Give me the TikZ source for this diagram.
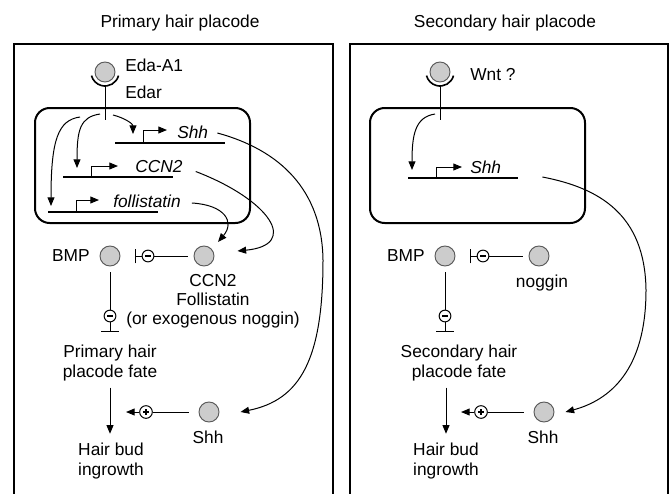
\documentclass[tikz,border=0pt]{standalone}
\usepackage{fontspec}
\setmainfont{Liberation Sans}
\usetikzlibrary{arrows.meta,calc}
\begin{document}
\begin{tikzpicture}[x=0.75pt,y=-0.75pt,
  every node/.style={font=\fontsize{13}{14.3}\selectfont, inner sep=0pt},
  lbl/.style={align=center},
  gene/.style={font=\fontsize{13}{14.3}\selectfont\itshape},
  sig/.style={circle,draw=black!65,fill=black!20,minimum size=15pt,line width=0.7pt},
  frame/.style={line width=1.6pt},
  cell/.style={line width=1.5pt,rounded corners=11pt},
  conn/.style={line width=0.75pt},
  act/.style={conn,-{Triangle[length=6.5pt,width=5.2pt]}},
  inh/.style={conn,-{Bar[width=#1,line width=0.9pt]}},
  dna/.style={line width=0.9pt},
  cup/.style={line width=1.2pt},
  minus/.style={circle,draw,line width=0.75pt,minimum size=8.8pt,
    path picture={\fill ([xshift=-2.4pt,yshift=-0.7pt]path picture bounding box.center) rectangle ([xshift=2.4pt,yshift=0.7pt]path picture bounding box.center);}},
  plus/.style={circle,draw,line width=0.75pt,minimum size=9.5pt,
    path picture={\fill ([xshift=-2.5pt,yshift=-0.65pt]path picture bounding box.center) rectangle ([xshift=2.5pt,yshift=0.65pt]path picture bounding box.center);
      \fill ([xshift=-0.65pt,yshift=-2.5pt]path picture bounding box.center) rectangle ([xshift=0.65pt,yshift=2.5pt]path picture bounding box.center);}}
]
\useasboundingbox (0,0) rectangle (670,493);

% titles
\node (t1) at (180,23) {Primary hair placode};
\node (t2) at (505,23) {Secondary hair placode};

% frames
\draw[frame] (14,494) -- (14,44) -- (333,44) -- (333,494);
\draw[frame] (350,494) -- (350,44) -- (668,44) -- (668,494);

% cells
\draw[cell] (35,108) rectangle (250,223);
\draw[cell] (370,108) rectangle (585,223);

%%%%%%%%%%%%%%%% LEFT PANEL
\node[sig] (lig1) at (105,72) {};
\draw[cup] ($(lig1)+(15:14)$) arc[start angle=15,end angle=165,radius=14];
\coordinate (stem1) at (105,120);
\draw[conn] ($(lig1)+(0,14)$) -- (stem1);
\node[anchor=west] (eda) at (125,65) {Eda-A1};
\node[anchor=west] (edar) at (125,92) {Edar};

% genes
\draw[dna] (115,143) -- (225,143);
\draw[act] (143,143) |- (167,130);
\node[gene,anchor=west] (g1shh) at (177,132) {Shh};
\draw[dna] (63,177) -- (173,177);
\draw[act] (91,177) |- (118,166);
\node[gene,anchor=west] (g1ccn) at (135,166.5) {CCN2};
\draw[dna] (48,212) -- (158,212);
\draw[act] (76,212) |- (99,200);
\node[gene,anchor=west] (g1fst) at (113,201) {follistatin};

% inner arrows
\coordinate (s1a) at (113,115);
\coordinate (s1b) at (100,114);
\coordinate (s1c) at (80,117);
\draw[act] (s1a) .. controls (125,118) and (133,124) .. (133,134);
\draw[act] (s1b) .. controls (80,117) and (77,130) .. (77,168);
\draw[act] (s1c) .. controls (58,120) and (51,140) .. (51,206);

% lower
\node[sig] (bmp1) at (110,256) {};
\node[anchor=east] (bmp1l) at (90,256) {BMP};
\node[sig] (ccn1) at (204,256) {};
\node[lbl] (ccn1l) at (213,301) {CCN2\\Follistatin\\(or exogenous noggin)};
\node[minus] (m1) at (148,256) {};
\coordinate (b1h) at (135,256);
\draw[conn,shorten <=4.5pt] (ccn1) -- (m1);
\draw[inh=11pt] (m1) -- (b1h);
\node[minus] (m2) at (110,316) {};
\coordinate (b1v) at (110,332);
\draw[conn,shorten <=4.5pt] (bmp1) -- (m2);
\draw[inh=13pt] (m2) -- (b1v);

\node[lbl] (fate1) at (110,363) {Primary hair\\placode fate};
\node[lbl] (bud1) at (111,461) {Hair bud\\ingrowth};
\draw[act,shorten <=5pt,shorten >=7pt] (fate1.south) -- (fate1.south |- bud1.north);

\node[sig] (shh1) at (209,412) {};
\node (shh1l) at (208,437) {Shh};
\node[plus] (p1) at (146,412) {};
\coordinate (a1) at (126,412);
\draw[conn,shorten <=7.5pt] (shh1) -- (p1);
\draw[act] (p1) -- (a1);

% long curves
\draw[act] ($(g1shh.east)+(9,1)$) .. controls (280,150) and (322,190) .. (323,260)
   .. controls (323,360) and (300,400) .. ($(shh1.east)+(21,0)$);
\draw[act] ($(g1ccn.east)+(13,5)$) .. controls (270,200) and (300,245) .. ($(ccn1.east)+(23,-5)$);
\draw[act] ($(g1fst.east)+(11,2)$) .. controls (225,205) and (235,222) .. ($(ccn1)+(14,-14)$);

%%%%%%%%%%%%%%%% RIGHT PANEL
\node[sig] (lig2) at (440,72) {};
\draw[cup] ($(lig2)+(15:14)$) arc[start angle=15,end angle=165,radius=14];
\coordinate (stem2) at (440,120);
\draw[conn] ($(lig2)+(0,14)$) -- (stem2);
\node[anchor=west] (wnt) at (470,75) {Wnt ?};

\draw[dna] (408,178) -- (518,178);
\draw[act] (436,178) |- (462,167);
\node[gene,anchor=west] (g2shh) at (470,167) {Shh};
\coordinate (s2a) at (435,114);
\draw[act] (s2a) .. controls (415,117) and (412,135) .. (412,170);

\node[sig] (bmp2) at (445,256) {};
\node[anchor=east] (bmp2l) at (425,256) {BMP};
\node[sig] (nog2) at (539,256) {};
\node (nog2l) at (542,283) {noggin};
\node[minus] (m3) at (483,256) {};
\coordinate (b2h) at (470,256);
\draw[conn,shorten <=4.5pt] (nog2) -- (m3);
\draw[inh=11pt] (m3) -- (b2h);
\node[minus] (m4) at (445,316) {};
\coordinate (b2v) at (445,332);
\draw[conn,shorten <=4.5pt] (bmp2) -- (m4);
\draw[inh=13pt] (m4) -- (b2v);

\node[lbl] (fate2) at (459,363) {Secondary hair\\placode fate};
\node[lbl] (bud2) at (446,461) {Hair bud\\ingrowth};
\draw[act,shorten <=5pt,shorten >=7pt] (bud2.north |- fate2.south) -- (bud2.north);

\node[sig] (shh2) at (544,412) {};
\node (shh2l) at (543,437) {Shh};
\node[plus] (p2) at (481,412) {};
\coordinate (a2) at (461,412);
\draw[conn,shorten <=7.5pt] (shh2) -- (p2);
\draw[act] (p2) -- (a2);

\draw[act] ($(g2shh.east)+(41,10)$) .. controls (600,188) and (645,215) .. (646,290)
   .. controls (646,370) and (610,400) .. ($(shh2.east)+(11,0)$);
\end{tikzpicture}
\end{document}
